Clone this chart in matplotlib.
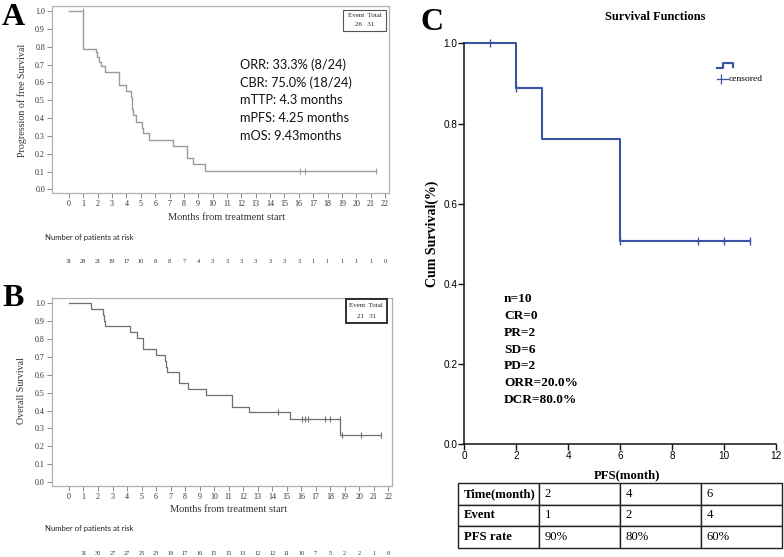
import matplotlib
matplotlib.use('Agg')
import matplotlib.pyplot as plt
import matplotlib.transforms as mtransforms
from matplotlib.lines import Line2D
from matplotlib.patches import Rectangle
import numpy as np

# ---------------- data ----------------
# Panel A : progression free survival (KM step points)
a_times = [0, 1.0, 1.85, 1.97, 2.09, 2.2, 2.5, 3.5, 4.0, 4.3, 4.36, 4.42, 4.48, 4.67,
           5.06, 5.17, 5.59, 7.22, 8.24, 8.61, 9.47, 21.4]
a_surv = [1.0, 0.79, 0.77, 0.745, 0.717, 0.694, 0.657, 0.586, 0.555, 0.52, 0.485, 0.45,
          0.417, 0.38, 0.346, 0.314, 0.277, 0.243, 0.174, 0.14, 0.104, 0.104]
a_cens_t = [1.0, 16.05, 16.45, 21.4]
a_cens_s = [1.0, 0.104, 0.104, 0.104]
risk_a = [31, 28, 21, 19, 17, 10, 8, 8, 7, 4, 3, 3, 3, 3, 3, 3, 3, 1, 1, 1, 1, 1, 0]
a_event, a_total = 26, 31
a_stats = ["ORR: 33.3% (8/24)", "CBR: 75.0% (18/24)", "mTTP: 4.3 months",
           "mPFS: 4.25 months", "mOS: 9.43months"]

# Panel B : overall survival
b_times = [0, 1.55, 2.37, 2.42, 2.47, 4.2, 4.71, 5.12, 5.97, 6.64, 6.7, 6.76, 7.58, 8.22,
           9.42, 11.21, 12.43, 15.26, 18.68, 21.5]
b_surv = [1.0, 0.968, 0.935, 0.903, 0.872, 0.838, 0.808, 0.744, 0.711, 0.68, 0.645, 0.617,
          0.553, 0.52, 0.487, 0.422, 0.39, 0.355, 0.266, 0.266]
b_cens_t = [14.43, 16.08, 16.26, 16.49, 17.64, 17.99, 18.68, 18.8, 20.1, 21.48]
b_cens_s = [0.39, 0.355, 0.355, 0.355, 0.355, 0.355, 0.355, 0.266, 0.266, 0.266]
risk_b = [31, 30, 27, 27, 25, 23, 19, 17, 16, 15, 15, 13, 12, 12, 11, 10, 7, 5, 2, 2, 1, 0]
b_event, b_total = 21, 31

# Panel C : PFS
c_times = [0, 2, 3, 6, 11]
c_surv = [1.0, 0.889, 0.762, 0.508, 0.508]
c_cens_t = [1, 2, 6, 9, 10, 11]
c_cens_s = [1.0, 0.889, 0.508, 0.508, 0.508, 0.508]
c_stats = ["n=10", "CR=0", "PR=2", "SD=6", "PD=2", "ORR=20.0%", "DCR=80.0%"]
table_rows = ["Time(month)", "Event", "PFS rate"]
table_time = ["2", "4", "6"]
table_event = ["1", "2", "4"]
table_rate = ["90%", "80%", "60%"]

# ---------------- layout helpers ----------------
W, H = 784, 557
fig = plt.figure(figsize=(W / 100, H / 100), dpi=100)
fig.patch.set_facecolor('white')
SERIF = 'Liberation Serif'
SANS = 'Lato'


def box(l, t, r, b):
    return [l / W, 1 - b / H, (r - l) / W, (b - t) / H]


def fx(x):
    return x / W


def fy(y):
    return 1 - y / H


def km_panel(ax, times, surv, ct, cs, color, lw, xlim, ylim, ylabel_txt, ylabel_x, ylabel_y,
             xlabel_y, risk, risk_start, risk_title_y, risk_y, ev, tot, ebox, ebox_lw, ebox_col):
    ax.step(times, surv, where='post', color=color, lw=lw)
    ax.plot(ct, cs, ls='none', marker='|', ms=4, mew=0.8, color=color)
    ax.set_xlim(*xlim)
    ax.set_ylim(*ylim)
    ax.set_xticks(range(0, 23))
    ax.set_yticks(np.round(np.arange(0, 1.01, 0.1), 1))
    ax.set_yticklabels([f"{v:.1f}" for v in np.arange(0, 1.01, 0.1)])
    for s in ax.spines.values():
        s.set_color('#b0b0b0')
        s.set_linewidth(0.9)
    ax.tick_params(length=3.5, width=0.6, color='#777777', labelsize=5.8, pad=1.5,
                   labelcolor='#333333')
    for lab in ax.get_xticklabels() + ax.get_yticklabels():
        lab.set_fontfamily(SERIF)
    fig.text(fx(ylabel_x), fy(ylabel_y), ylabel_txt, rotation=90, ha='center', va='center',
             fontsize=7.2, family=SERIF, color='#333333')
    tr = mtransforms.blended_transform_factory(ax.transData, fig.transFigure)
    ax.text(11, fy(xlabel_y), "Months from treatment start", transform=tr, ha='center',
            va='center', fontsize=7.5, family=SERIF, color='#333333', clip_on=False)
    fig.text(fx(45), fy(risk_title_y), "Number of patients at risk", ha='left', va='center',
             fontsize=5.6, family=SANS, color='#222222')
    for i, n in enumerate(risk):
        ax.text(risk_start + i, fy(risk_y), str(n), transform=tr, ha='center', va='center',
                fontsize=4.6, family=SERIF, color='#333333', clip_on=False)
    l, t, r, b = ebox
    fig.patches.append(Rectangle((fx(l), fy(b)), fx(r) - fx(l), fy(t) - fy(b),
                                 transform=fig.transFigure, fill=False, lw=ebox_lw,
                                 ec=ebox_col, zorder=5))
    fig.text(fx((l + r) / 2), fy(t + (b - t) * 0.28), "Event  Total", ha='center', va='center',
             fontsize=5.0, family=SERIF, color='#222222')
    fig.text(fx((l + r) / 2), fy(t + (b - t) * 0.72), f"{ev}   {tot}", ha='center', va='center',
             fontsize=5.0, family=SERIF, color='#222222')


# ---------------- Panel A ----------------
axA = fig.add_axes(box(52, 5.7, 389.3, 193.3))
km_panel(axA, a_times, a_surv, a_cens_t, a_cens_s, '#9a9a9a', 1.0, (-1.18, 22.3),
         (-0.022, 1.031), "Progression of free Survival", 22, 100, 217.5,
         risk_a, 0, 237.5, 261.7, a_event, a_total, (343.3, 10, 386, 30.7), 0.8, '#555555')
trA = mtransforms.blended_transform_factory(fig.transFigure, axA.transData)
for i, s in enumerate(a_stats):
    axA.text(fx(240), 0.7 - 0.1 * i, s, transform=trA, ha='left', va='center', fontsize=9.2,
             family=SANS, color='#111111', clip_on=False)
fig.text(fx(2), fy(25), "A", ha='left', va='baseline', fontsize=23, fontweight='bold',
         family=SERIF)

# ---------------- Panel B ----------------
axB = fig.add_axes(box(51.7, 298.3, 391.7, 486))
km_panel(axB, b_times, b_surv, b_cens_t, b_cens_s, '#6f6f6f', 0.9, (-1.19, 22.24),
         (-0.022, 1.028), "Overall Survival", 22, 390, 509.3,
         risk_b, 1, 528.3, 553.3, b_event, b_total, (346, 299, 386.7, 323.3), 1.3, '#222222')
fig.text(fx(2), fy(306), "B", ha='left', va='baseline', fontsize=23, fontweight='bold',
         family=SERIF)

# ---------------- Panel C ----------------
blue = '#3a55a5'
axC = fig.add_axes(box(464.3, 43.3, 776, 444.3))
axC.step(c_times, c_surv, where='post', color=blue, lw=1.5, clip_on=False)
axC.plot(c_cens_t, c_cens_s, ls='none', marker='|', ms=6, mew=1.0, color=blue, clip_on=False)
axC.set_xlim(0, 12)
axC.set_ylim(0, 1)
axC.set_xticks(range(0, 13, 2))
axC.set_yticks([0, 0.2, 0.4, 0.6, 0.8, 1.0])
axC.set_yticklabels(["0.0", "0.2", "0.4", "0.6", "0.8", "1.0"])
for side in ('top', 'right'):
    axC.spines[side].set_visible(False)
for side in ('left', 'bottom'):
    axC.spines[side].set_linewidth(1.1)
    axC.spines[side].set_color('#111111')
axC.tick_params(length=4, width=1.0, labelsize=7.2, pad=1.0, color='#111111')
for lab in axC.get_xticklabels() + axC.get_yticklabels():
    lab.set_fontfamily('Liberation Sans')
fig.text(fx(432.5), fy(234), "Cum Survival(%)", rotation=90, ha='center', va='center',
         fontsize=10, fontweight='bold', family=SERIF)
fig.text(fx(627), fy(475), "PFS(month)", ha='center', va='center',
         fontsize=9.2, fontweight='bold', family=SERIF)
fig.text(fx(655), fy(17.5), "Survival Functions", ha='center', va='center',
         fontsize=8.9, fontweight='bold', family=SERIF)
fig.text(fx(421), fy(29.5), "C", ha='left', va='baseline', fontsize=23, fontweight='bold',
         family=SERIF)
for i, s in enumerate(c_stats):
    fig.text(fx(504), fy(299.3 + i * 16.75), s, ha='left', va='center', fontsize=9.6,
             fontweight='bold', family=SERIF)

# legend (manual)
fig.lines.append(Line2D([fx(716.7), fx(722.7), fx(722.7), fx(732.7), fx(732.7)],
                        [fy(68.3), fy(68.3), fy(62.7), fy(62.7), fy(66.5)],
                        transform=fig.transFigure, color=blue, lw=1.6))
fig.lines.append(Line2D([fx(716.7), fx(728)], [fy(79), fy(79)], transform=fig.transFigure,
                        color=blue, lw=0.9))
fig.lines.append(Line2D([fx(721)], [fy(79)], transform=fig.transFigure, color=blue,
                        marker='|', ms=7, mew=0.9, ls='none'))
fig.text(fx(728.5), fy(79), "censored", ha='left', va='center', fontsize=6.8, family=SERIF)

# table
axT = fig.add_axes(box(458.3, 483.3, 782.3, 547.7))
axT.axis('off')
cells = [[table_rows[0]] + table_time, [table_rows[1]] + table_event,
         [table_rows[2]] + table_rate]
tbl = axT.table(cellText=cells, cellLoc='left', bbox=[0, 0, 1, 1])
tbl.auto_set_font_size(False)
for (r, c), cell in tbl.get_celld().items():
    cell.set_linewidth(1.0)
    cell.set_edgecolor('#222222')
    cell.PAD = 0.07
    txt = cell.get_text()
    txt.set_fontsize(9.2)
    txt.set_fontfamily(SERIF)
    if c == 0:
        txt.set_fontweight('bold')

fig.savefig('out.png', dpi=100, facecolor='white')
